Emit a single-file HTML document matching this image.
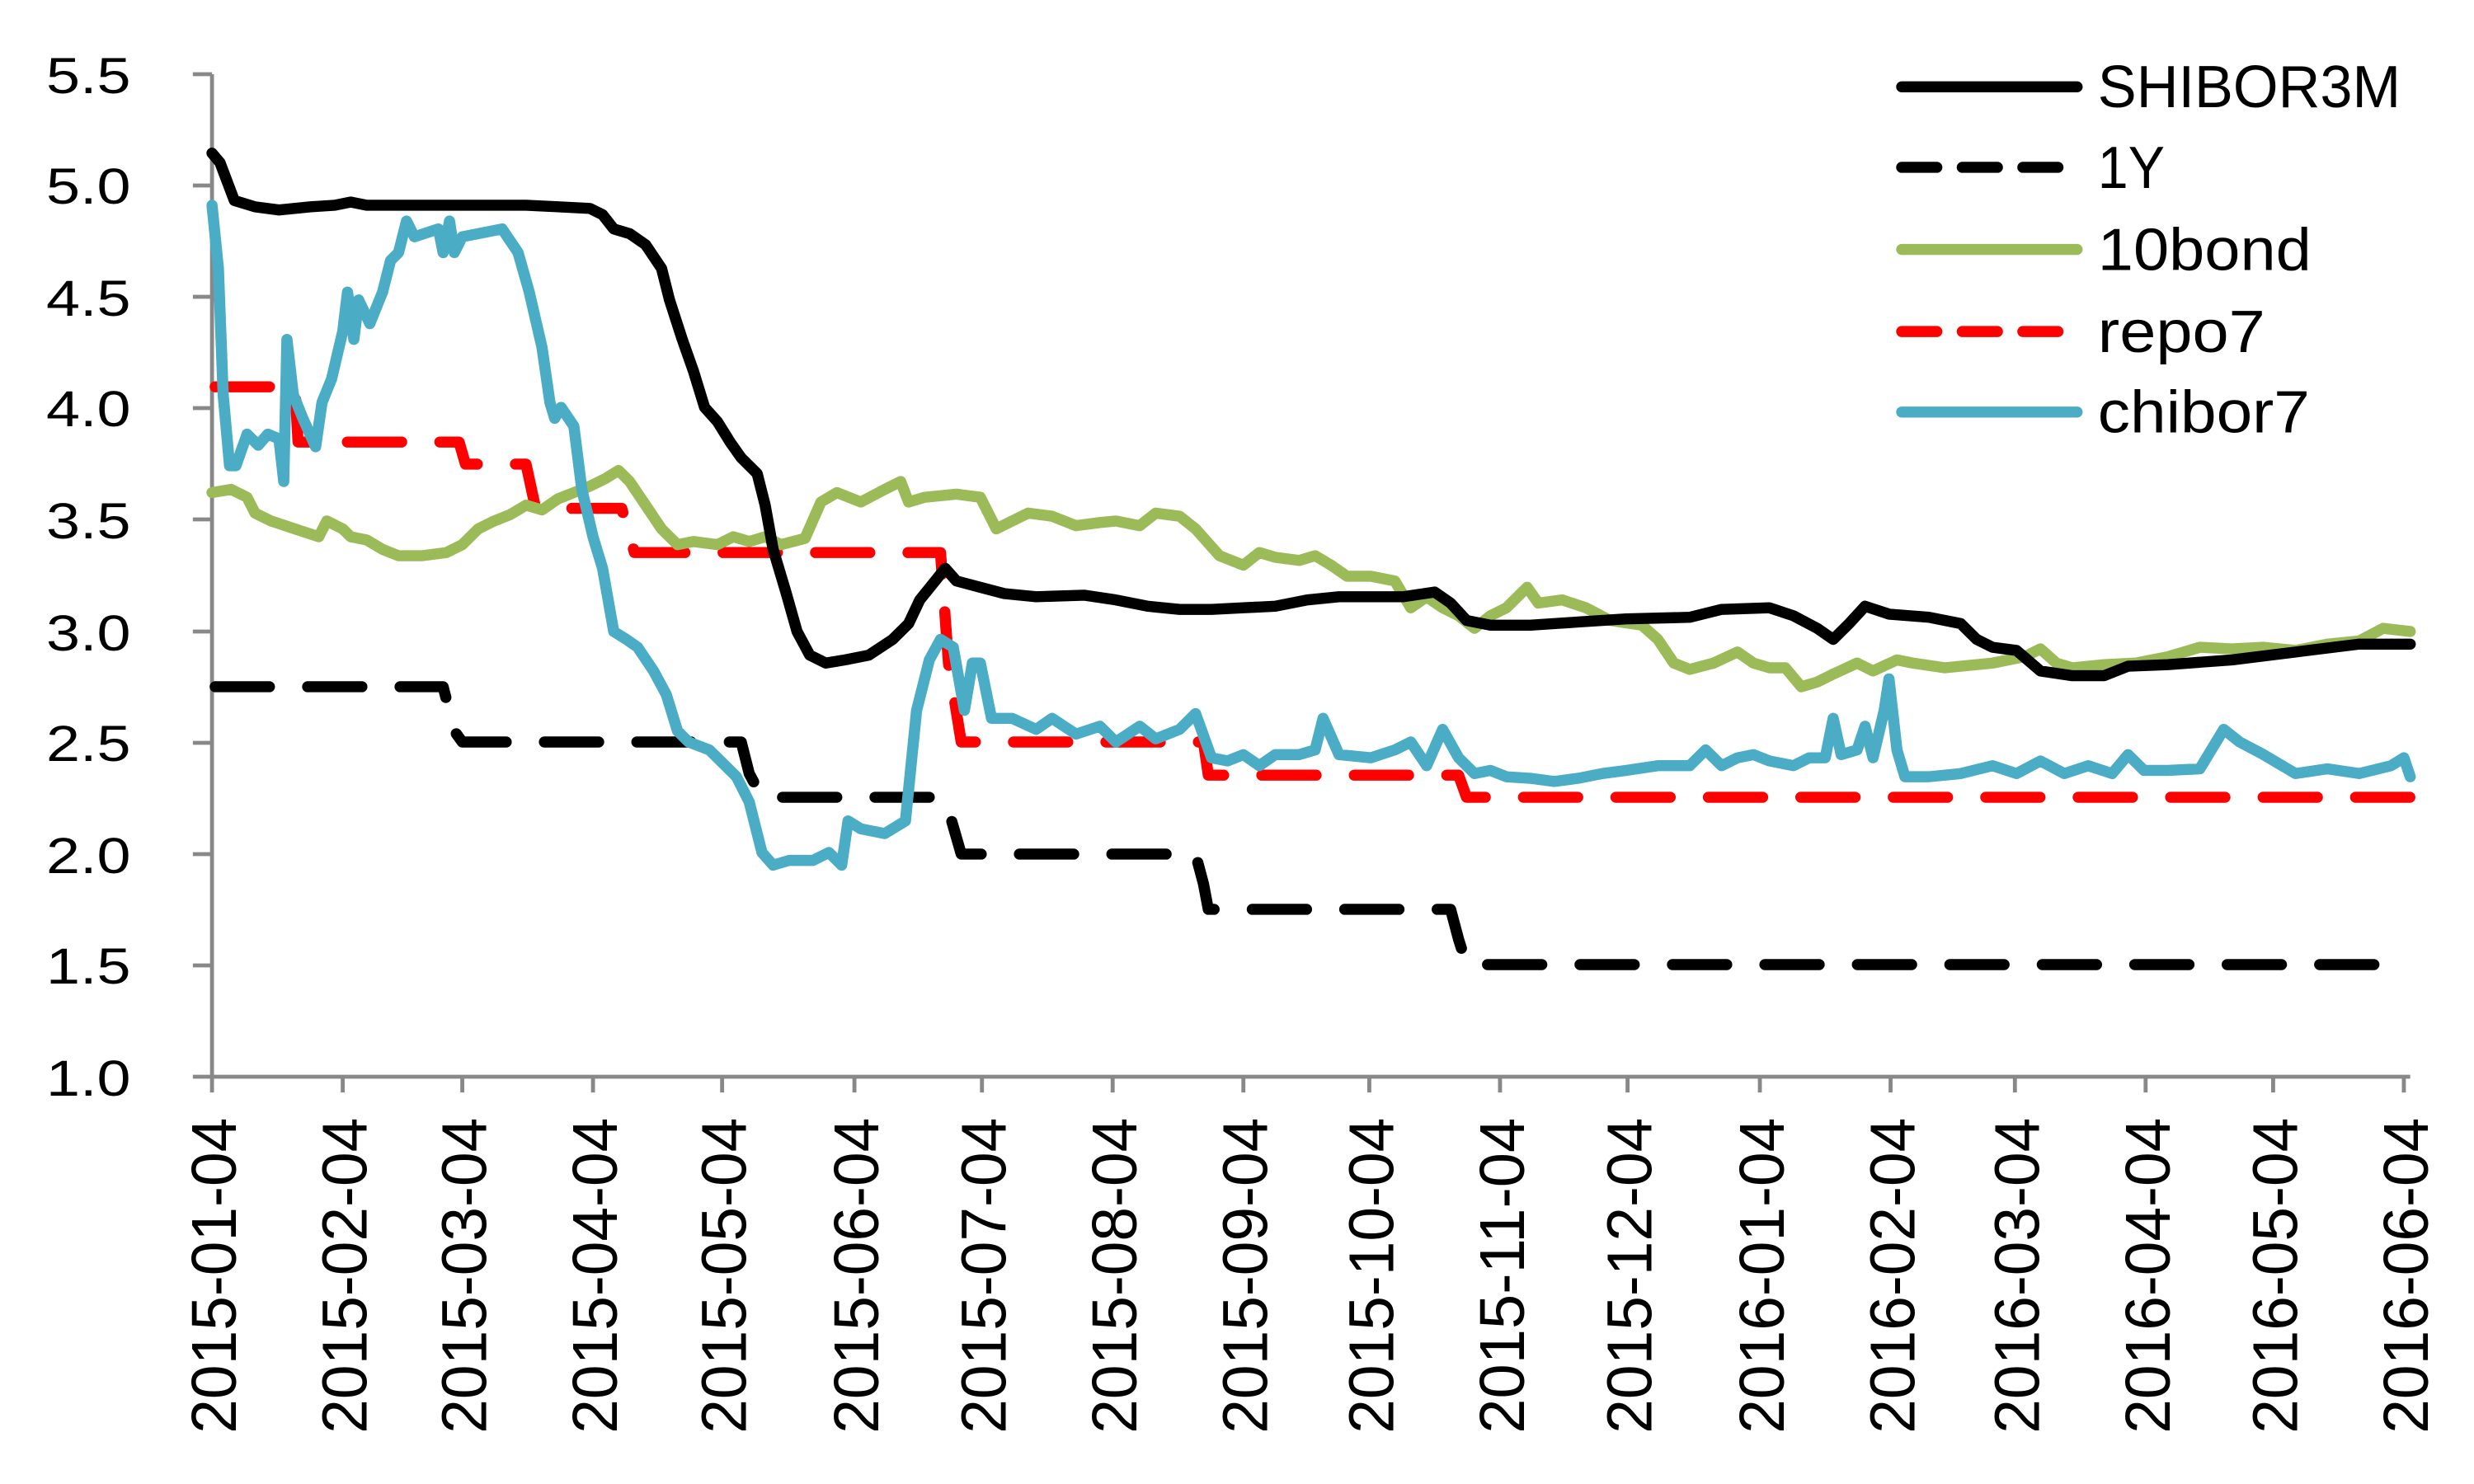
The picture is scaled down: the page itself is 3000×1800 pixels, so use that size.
<!DOCTYPE html>
<html><head><meta charset="utf-8"><style>html,body{margin:0;padding:0;background:#fff;}svg{display:block}</style></head>
<body>
<svg width="3000" height="1800" viewBox="0 0 1552 940" preserveAspectRatio="none" xmlns="http://www.w3.org/2000/svg">
<rect width="1552" height="940" fill="#fff"/>
<g stroke="#888" stroke-width="2.5" fill="none">
<line x1="133" y1="47" x2="133" y2="682"/>
<line x1="133" y1="682" x2="1512" y2="682"/>
<path d="M121 47H133M121 117.5H133M121 188H133M121 258.5H133M121 329H133M121 400H133M121 470.5H133M121 541H133M121 611.5H133M121 682H133"/>
<path d="M133 682V692M215 682V692M290 682V692M372 682V692M453 682V692M536 682V692M616 682V692M698 682V692M780 682V692M859 682V692M941 682V692M1021 682V692M1104 682V692M1186 682V692M1264 682V692M1346 682V692M1426 682V692M1508 682V692"/>
</g>
<g font-family="Liberation Sans, sans-serif" font-size="32" fill="#000" text-anchor="end">
<text x="82" y="59" textLength="53" lengthAdjust="spacingAndGlyphs">5.5</text>
<text x="82" y="129" textLength="53" lengthAdjust="spacingAndGlyphs">5.0</text>
<text x="82" y="200" textLength="53" lengthAdjust="spacingAndGlyphs">4.5</text>
<text x="82" y="270" textLength="53" lengthAdjust="spacingAndGlyphs">4.0</text>
<text x="82" y="341" textLength="53" lengthAdjust="spacingAndGlyphs">3.5</text>
<text x="82" y="412" textLength="53" lengthAdjust="spacingAndGlyphs">3.0</text>
<text x="82" y="482" textLength="53" lengthAdjust="spacingAndGlyphs">2.5</text>
<text x="82" y="553" textLength="53" lengthAdjust="spacingAndGlyphs">2.0</text>
<text x="82" y="623" textLength="53" lengthAdjust="spacingAndGlyphs">1.5</text>
<text x="82" y="694" textLength="53" lengthAdjust="spacingAndGlyphs">1.0</text>
</g>
<g font-family="Liberation Sans, sans-serif" font-size="40" fill="#000" text-anchor="end">
<text transform="translate(148,708) rotate(-90)" textLength="200" lengthAdjust="spacingAndGlyphs">2015-01-04</text>
<text transform="translate(230,708) rotate(-90)" textLength="200" lengthAdjust="spacingAndGlyphs">2015-02-04</text>
<text transform="translate(305,708) rotate(-90)" textLength="200" lengthAdjust="spacingAndGlyphs">2015-03-04</text>
<text transform="translate(387,708) rotate(-90)" textLength="200" lengthAdjust="spacingAndGlyphs">2015-04-04</text>
<text transform="translate(468,708) rotate(-90)" textLength="200" lengthAdjust="spacingAndGlyphs">2015-05-04</text>
<text transform="translate(551,708) rotate(-90)" textLength="200" lengthAdjust="spacingAndGlyphs">2015-06-04</text>
<text transform="translate(631,708) rotate(-90)" textLength="200" lengthAdjust="spacingAndGlyphs">2015-07-04</text>
<text transform="translate(713,708) rotate(-90)" textLength="200" lengthAdjust="spacingAndGlyphs">2015-08-04</text>
<text transform="translate(795,708) rotate(-90)" textLength="200" lengthAdjust="spacingAndGlyphs">2015-09-04</text>
<text transform="translate(874,708) rotate(-90)" textLength="200" lengthAdjust="spacingAndGlyphs">2015-10-04</text>
<text transform="translate(956,708) rotate(-90)" textLength="200" lengthAdjust="spacingAndGlyphs">2015-11-04</text>
<text transform="translate(1036,708) rotate(-90)" textLength="200" lengthAdjust="spacingAndGlyphs">2015-12-04</text>
<text transform="translate(1119,708) rotate(-90)" textLength="200" lengthAdjust="spacingAndGlyphs">2016-01-04</text>
<text transform="translate(1201,708) rotate(-90)" textLength="200" lengthAdjust="spacingAndGlyphs">2016-02-04</text>
<text transform="translate(1279,708) rotate(-90)" textLength="200" lengthAdjust="spacingAndGlyphs">2016-03-04</text>
<text transform="translate(1361,708) rotate(-90)" textLength="200" lengthAdjust="spacingAndGlyphs">2016-04-04</text>
<text transform="translate(1441,708) rotate(-90)" textLength="200" lengthAdjust="spacingAndGlyphs">2016-05-04</text>
<text transform="translate(1523,708) rotate(-90)" textLength="200" lengthAdjust="spacingAndGlyphs">2016-06-04</text>
</g>
<g fill="none" stroke-width="7" stroke-linejoin="round" stroke-linecap="round">
<polyline stroke="#000" stroke-dasharray="34 24" points="135,435 278,435 285,463 290,470 465,470 470,490 478,505 590,505 597,520 603,541 750,541 755,560 758,576 910,576 915,595 920,611 1508,611"/>
<polyline stroke="#ff0000" stroke-dasharray="34 24" points="135,245 185,245 187,280 288,280 292,294 330,294 336,322 390,322 398,350 590,350 595,420 603,470 755,470 758,491 915,491 920,505 1512,505"/>
<polyline stroke="#9bbb59" points="133,312 145,310 155,315 160,325 170,330 185,335 200,340 205,330 215,335 220,340 230,342 240,348 250,352 265,352 280,350 290,345 300,335 310,330 320,326 330,320 340,323 350,316 360,312 370,308 380,303 388,298 395,305 405,320 415,335 425,345 435,343 450,345 460,340 470,343 480,340 490,345 505,341 515,318 525,312 540,318 555,310 565,305 570,318 580,315 600,313 615,315 625,335 635,330 645,325 660,327 675,333 690,331 700,330 715,333 725,325 740,327 750,335 765,352 780,358 790,350 800,353 815,355 825,352 835,358 845,365 860,365 875,368 885,385 895,378 905,385 915,390 925,398 935,390 945,385 958,372 965,382 980,380 995,385 1010,393 1030,396 1040,405 1050,420 1060,424 1075,420 1090,413 1100,420 1110,423 1120,423 1130,435 1140,432 1150,427 1165,420 1175,425 1190,418 1200,420 1220,423 1250,420 1270,416 1280,411 1290,420 1300,423 1320,421 1340,420 1360,416 1380,410 1400,411 1420,410 1440,412 1460,408 1480,406 1495,398 1512,400"/>
<polyline stroke="#4bacc6" points="133,130 137,170 140,250 144,295 148,295 155,275 162,282 168,275 175,278 178,305 180,215 184,250 190,265 198,283 202,255 208,240 215,210 218,185 222,215 225,190 232,205 240,185 245,165 250,160 255,140 260,150 275,145 278,160 282,140 285,160 290,150 300,148 315,145 325,160 332,185 340,220 345,255 348,265 352,258 360,270 365,310 372,340 378,360 385,400 393,405 400,410 410,425 418,440 425,463 432,470 445,475 455,485 462,492 470,508 478,540 485,548 495,545 510,545 520,540 528,548 532,520 540,525 555,528 568,520 575,450 583,418 590,405 598,410 605,450 610,420 615,420 622,455 635,455 650,462 660,455 675,465 690,460 700,470 715,460 725,468 740,462 750,452 760,480 770,482 780,478 790,485 800,478 815,478 825,475 830,455 840,478 860,480 875,475 885,470 895,485 905,462 915,480 925,490 935,488 945,492 960,493 975,495 990,493 1005,490 1020,488 1040,485 1060,485 1070,475 1080,485 1090,480 1100,478 1110,482 1125,485 1135,480 1145,480 1150,455 1155,478 1165,475 1170,460 1175,480 1182,450 1185,430 1190,475 1195,492 1210,492 1230,490 1250,485 1265,490 1280,482 1295,490 1310,485 1325,490 1335,478 1345,488 1360,488 1380,487 1395,462 1405,470 1420,478 1440,490 1460,487 1480,490 1500,485 1508,480 1512,492"/>
<polyline stroke="#000" points="133,97 138,103 147,127 160,131 175,133 195,131 210,130 220,128 230,130 260,130 300,130 330,130 350,131 370,132 378,136 385,145 395,148 405,155 415,170 420,190 428,215 435,235 442,258 450,267 458,280 465,290 475,300 480,320 485,348 493,375 500,400 508,415 518,420 530,418 545,415 560,405 570,395 577,380 585,370 593,360 600,368 615,372 630,376 650,378 680,377 700,380 720,384 740,386 760,386 780,385 800,384 820,380 840,378 880,378 900,375 910,382 920,393 935,396 960,396 990,394 1020,392 1060,391 1080,386 1110,385 1125,390 1140,398 1150,405 1160,395 1170,384 1185,389 1210,391 1230,395 1240,405 1250,410 1265,412 1280,425 1300,428 1320,428 1335,422 1360,421 1400,418 1440,413 1480,408 1512,408"/>
</g>
<g fill="none" stroke-width="7" stroke-linecap="round">
<line x1="1193" y1="55" x2="1303" y2="55" stroke="#000"/>
<line x1="1193" y1="106" x2="1303" y2="106" stroke="#000" stroke-dasharray="22 16"/>
<line x1="1193" y1="158" x2="1303" y2="158" stroke="#9bbb59"/>
<line x1="1193" y1="210" x2="1303" y2="210" stroke="#ff0000" stroke-dasharray="22 16"/>
<line x1="1193" y1="261" x2="1303" y2="261" stroke="#4bacc6"/>
</g>
<g font-family="Liberation Sans, sans-serif" font-size="38" fill="#000">
<text x="1316" y="68" textLength="190" lengthAdjust="spacingAndGlyphs">SHIBOR3M</text>
<text x="1316" y="119" textLength="42" lengthAdjust="spacingAndGlyphs">1Y</text>
<text x="1316" y="171" textLength="134" lengthAdjust="spacingAndGlyphs">10bond</text>
<text x="1316" y="223" textLength="105" lengthAdjust="spacingAndGlyphs">repo7</text>
<text x="1316" y="274" textLength="133" lengthAdjust="spacingAndGlyphs">chibor7</text>
</g>
</svg>
</body></html>
